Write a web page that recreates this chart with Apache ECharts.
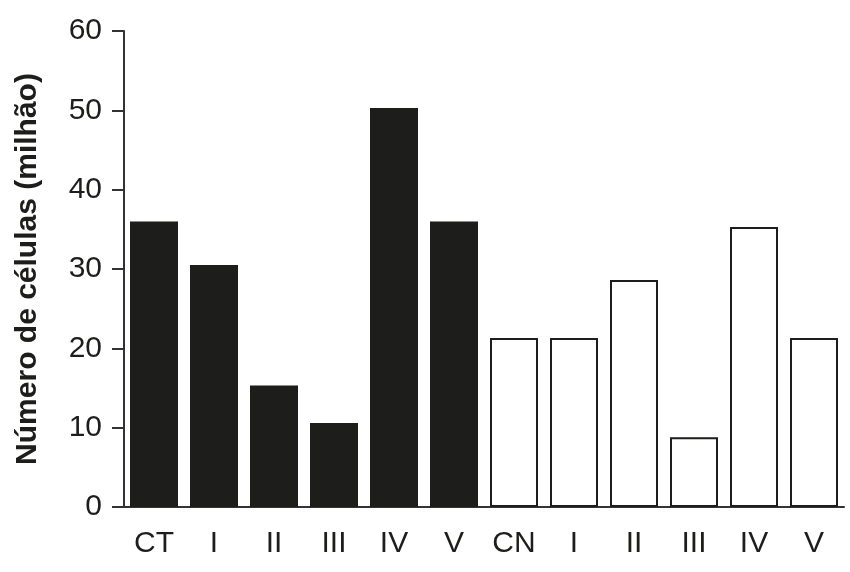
<!DOCTYPE html>
<html>
<head>
<meta charset="utf-8">
<script src="https://cdn.jsdelivr.net/npm/echarts@6/dist/echarts.min.js"></script>
<style>
  html, body { margin: 0; padding: 0; background: #fff; }
  #container { width: 850px; height: 572px; }
</style>
</head>
<body>
<div id="container"></div>
<script>
const categories = ["CT", "I", "II", "III", "IV", "V", "CN", "I", "II", "III", "IV", "V"];
const cellCounts = [36, 30.5, 15.3, 10.6, 50.3, 36, 21.3, 21.3, 28.6, 8.8, 35.3, 21.3];
const filledBars = [true, true, true, true, true, true, false, false, false, false, false, false];
const yTicks = [0, 10, 20, 30, 40, 50, 60];

const dom = document.getElementById("container");
const myChart = echarts.init(dom, null, { renderer: "canvas" });

const ink = "#1d1d1b";
const barData = cellCounts.map((v, i) => ({
  value: v,
  itemStyle: filledBars[i]
    ? { color: ink, borderColor: ink, borderWidth: 0 }
    : { color: "#ffffff", borderColor: ink, borderWidth: 2 },
}));

const option = {
  animation: false,
  grid: {
    left: 124,
    right: 6,
    top: 31,
    bottom: 65,
    containLabel: false,
  },
  xAxis: {
    type: "category",
    data: categories,
    axisLine: { lineStyle: { color: "#333", width: 2 } },
    axisTick: { alignWithLabel: true, length: 12, lineStyle: { color: "#333", width: 2 } },
    axisLabel: {
      interval: 0,
      margin: 22,
      color: "#1d1d1b",
      fontFamily: "Liberation Sans",
      fontSize: 30,
    },
  },
  yAxis: {
    type: "value",
    min: yTicks[0],
    max: yTicks[yTicks.length - 1],
    interval: 10,
    name: "Número de células (milhão)",
    nameLocation: "middle",
    nameGap: 81,
    nameTextStyle: {
      color: "#1d1d1b",
      fontFamily: "Liberation Sans",
      fontWeight: "bold",
      fontSize: 30,
    },
    axisLine: { show: true, lineStyle: { color: "#333", width: 2 } },
    axisTick: { show: true, length: 12, lineStyle: { color: "#333", width: 2 } },
    splitLine: { show: false },
    axisLabel: {
      margin: 22,
      color: "#1d1d1b",
      fontFamily: "Liberation Sans",
      fontSize: 30,
    },
  },
  series: [
    {
      type: "bar",
      data: barData,
      barCategoryGap: "20%",
    },
  ],
};

myChart.setOption(option);
</script>
</body>
</html>
